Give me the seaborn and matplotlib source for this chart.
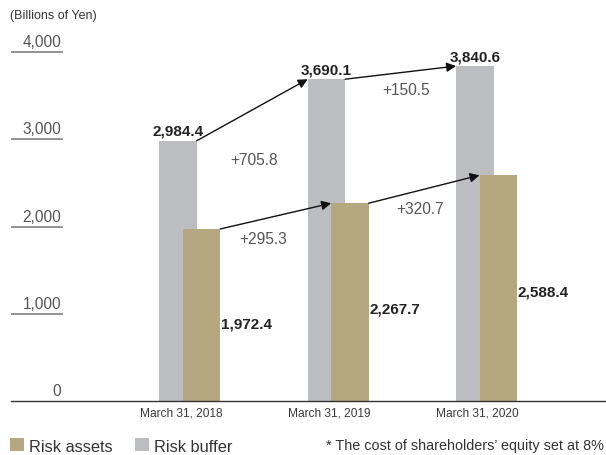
import matplotlib
matplotlib.use("Agg")
import matplotlib.pyplot as plt
from matplotlib.patches import Patch
import numpy as np
import pandas as pd
import seaborn as sns

# Data (billions of yen)
dates = ["March 31, 2018", "March 31, 2019", "March 31, 2020"]
risk_buffer = [2984.4, 3690.1, 3840.6]
risk_assets = [1972.4, 2267.7, 2588.4]
buffer_changes = ["+705.8", "+150.5"]
assets_changes = ["+295.3", "+320.7"]
y_ticks = [0, 1000, 2000, 3000, 4000]
y_tick_labels = ["0", "1,000", "2,000", "3,000", "4,000"]

GRAY = "#bcbdc1"
TAN = "#b5a780"

sns.set_theme(style="white")
plt.rcParams["font.family"] = ["Liberation Sans", "DejaVu Sans"]

W, H = 606, 456
fig = plt.figure(figsize=(W / 100, H / 100), dpi=100)
ax = fig.add_axes([11 / W, 54 / H, 595 / W, 392 / H])

groups = np.arange(len(dates))
off = 0.079
bw = 0.2525
df = pd.DataFrame({
    "pos": np.concatenate([groups - off, groups + off]),
    "value": risk_buffer + risk_assets,
    "series": ["Risk buffer"] * 3 + ["Risk assets"] * 3,
})
sns.barplot(data=df[df.series == "Risk buffer"], x="pos", y="value",
            native_scale=True, color=GRAY, saturation=1, width=bw,
            edgecolor="none", linewidth=0, ax=ax)
sns.barplot(data=df[df.series == "Risk assets"], x="pos", y="value",
            native_scale=True, color=TAN, saturation=1, width=bw,
            edgecolor="none", linewidth=0, ax=ax)

ax.set_xlim(-1.2045, 2.805)
ax.set_ylim(0, 4495)
ax.set_xlabel("")
ax.set_ylabel("")

# x labels
ax.set_xticks(groups - 0.06)
ax.set_xticklabels(dates, fontsize=8.6, color="#3a3a3a")
ax.tick_params(axis="x", length=0, pad=4)
ax.set_yticks([])

for s in ["top", "right", "left"]:
    ax.spines[s].set_visible(False)
ax.spines["bottom"].set_color("#333333")
ax.spines["bottom"].set_linewidth(1.0)

# y tick labels sitting on short underlines
ytr = ax.get_yaxis_transform()
ul_end = (63 - 11) / 595
for v, lab in zip(y_ticks, y_tick_labels):
    if v > 0:
        ax.plot([0, ul_end], [v, v], transform=ytr, color="#8a8a8a",
                lw=1.3, clip_on=False, solid_capstyle="butt")
    ax.annotate(lab, xy=(ul_end, v), xycoords=ytr, xytext=(-2, 3),
                textcoords="offset pixels", ha="right", va="bottom",
                fontsize=11.2, color="#555555")

# value labels
for i, v in enumerate(risk_buffer):
    ax.annotate(f"{v:,.1f}", xy=(i - off, v), xytext=(0, 10),
                textcoords="offset pixels", ha="center", va="center",
                fontsize=11, fontweight="bold", color="#222222")

asset_label_y = [883, 1055, 1261]
for i, v in enumerate(risk_assets):
    ax.text(i + off + bw / 2 + 0.005, asset_label_y[i], f"{v:,.1f}",
            ha="left", va="center", fontsize=11, fontweight="bold",
            color="#222222")

# change arrows
arrow_kw = dict(arrowstyle="-|>", color="#111111", lw=1.0,
                mutation_scale=14, shrinkA=0, shrinkB=0)
for i in range(len(dates) - 1):
    ax.annotate("", xy=(i + 1 - off - bw / 2, risk_buffer[i + 1]),
                xytext=(i - off + bw / 2, risk_buffer[i]),
                arrowprops=arrow_kw)
    ax.annotate("", xy=(i + 1 + off - bw / 2, risk_assets[i + 1]),
                xytext=(i + off + bw / 2, risk_assets[i]),
                arrowprops=arrow_kw)

buffer_change_pos = [(0.271, 2764), (1.30, 3567)]
assets_change_pos = [(0.332, 1858), (1.394, 2213)]
for txt, (x, y) in zip(buffer_changes, buffer_change_pos):
    ax.text(x, y, txt, ha="left", va="center", fontsize=11.2, color="#555555")
for txt, (x, y) in zip(assets_changes, assets_change_pos):
    ax.text(x, y, txt, ha="left", va="center", fontsize=11.2, color="#555555")

# unit label
fig.text(10 / W, 1 - 16 / H, "(Billions of Yen)", ha="left", va="center",
         fontsize=9, color="#333333")

# legend
handles = [Patch(facecolor=TAN, edgecolor="none", label="Risk assets"),
           Patch(facecolor=GRAY, edgecolor="none", label="Risk buffer")]
fig.legend(handles=handles, ncol=2, loc="center left",
           bbox_to_anchor=(-5 / W, 1 - 447 / H), frameon=False,
           fontsize=11.8, handlelength=0.85, handleheight=0.85,
           handletextpad=0.3, columnspacing=1.4, labelcolor="#333333")

fig.text(604 / W, 1 - 446 / H, "* The cost of shareholders\u2019 equity set at 8%",
         ha="right", va="center", fontsize=10.4, color="#333333")

fig.savefig("out.png", dpi=100)
